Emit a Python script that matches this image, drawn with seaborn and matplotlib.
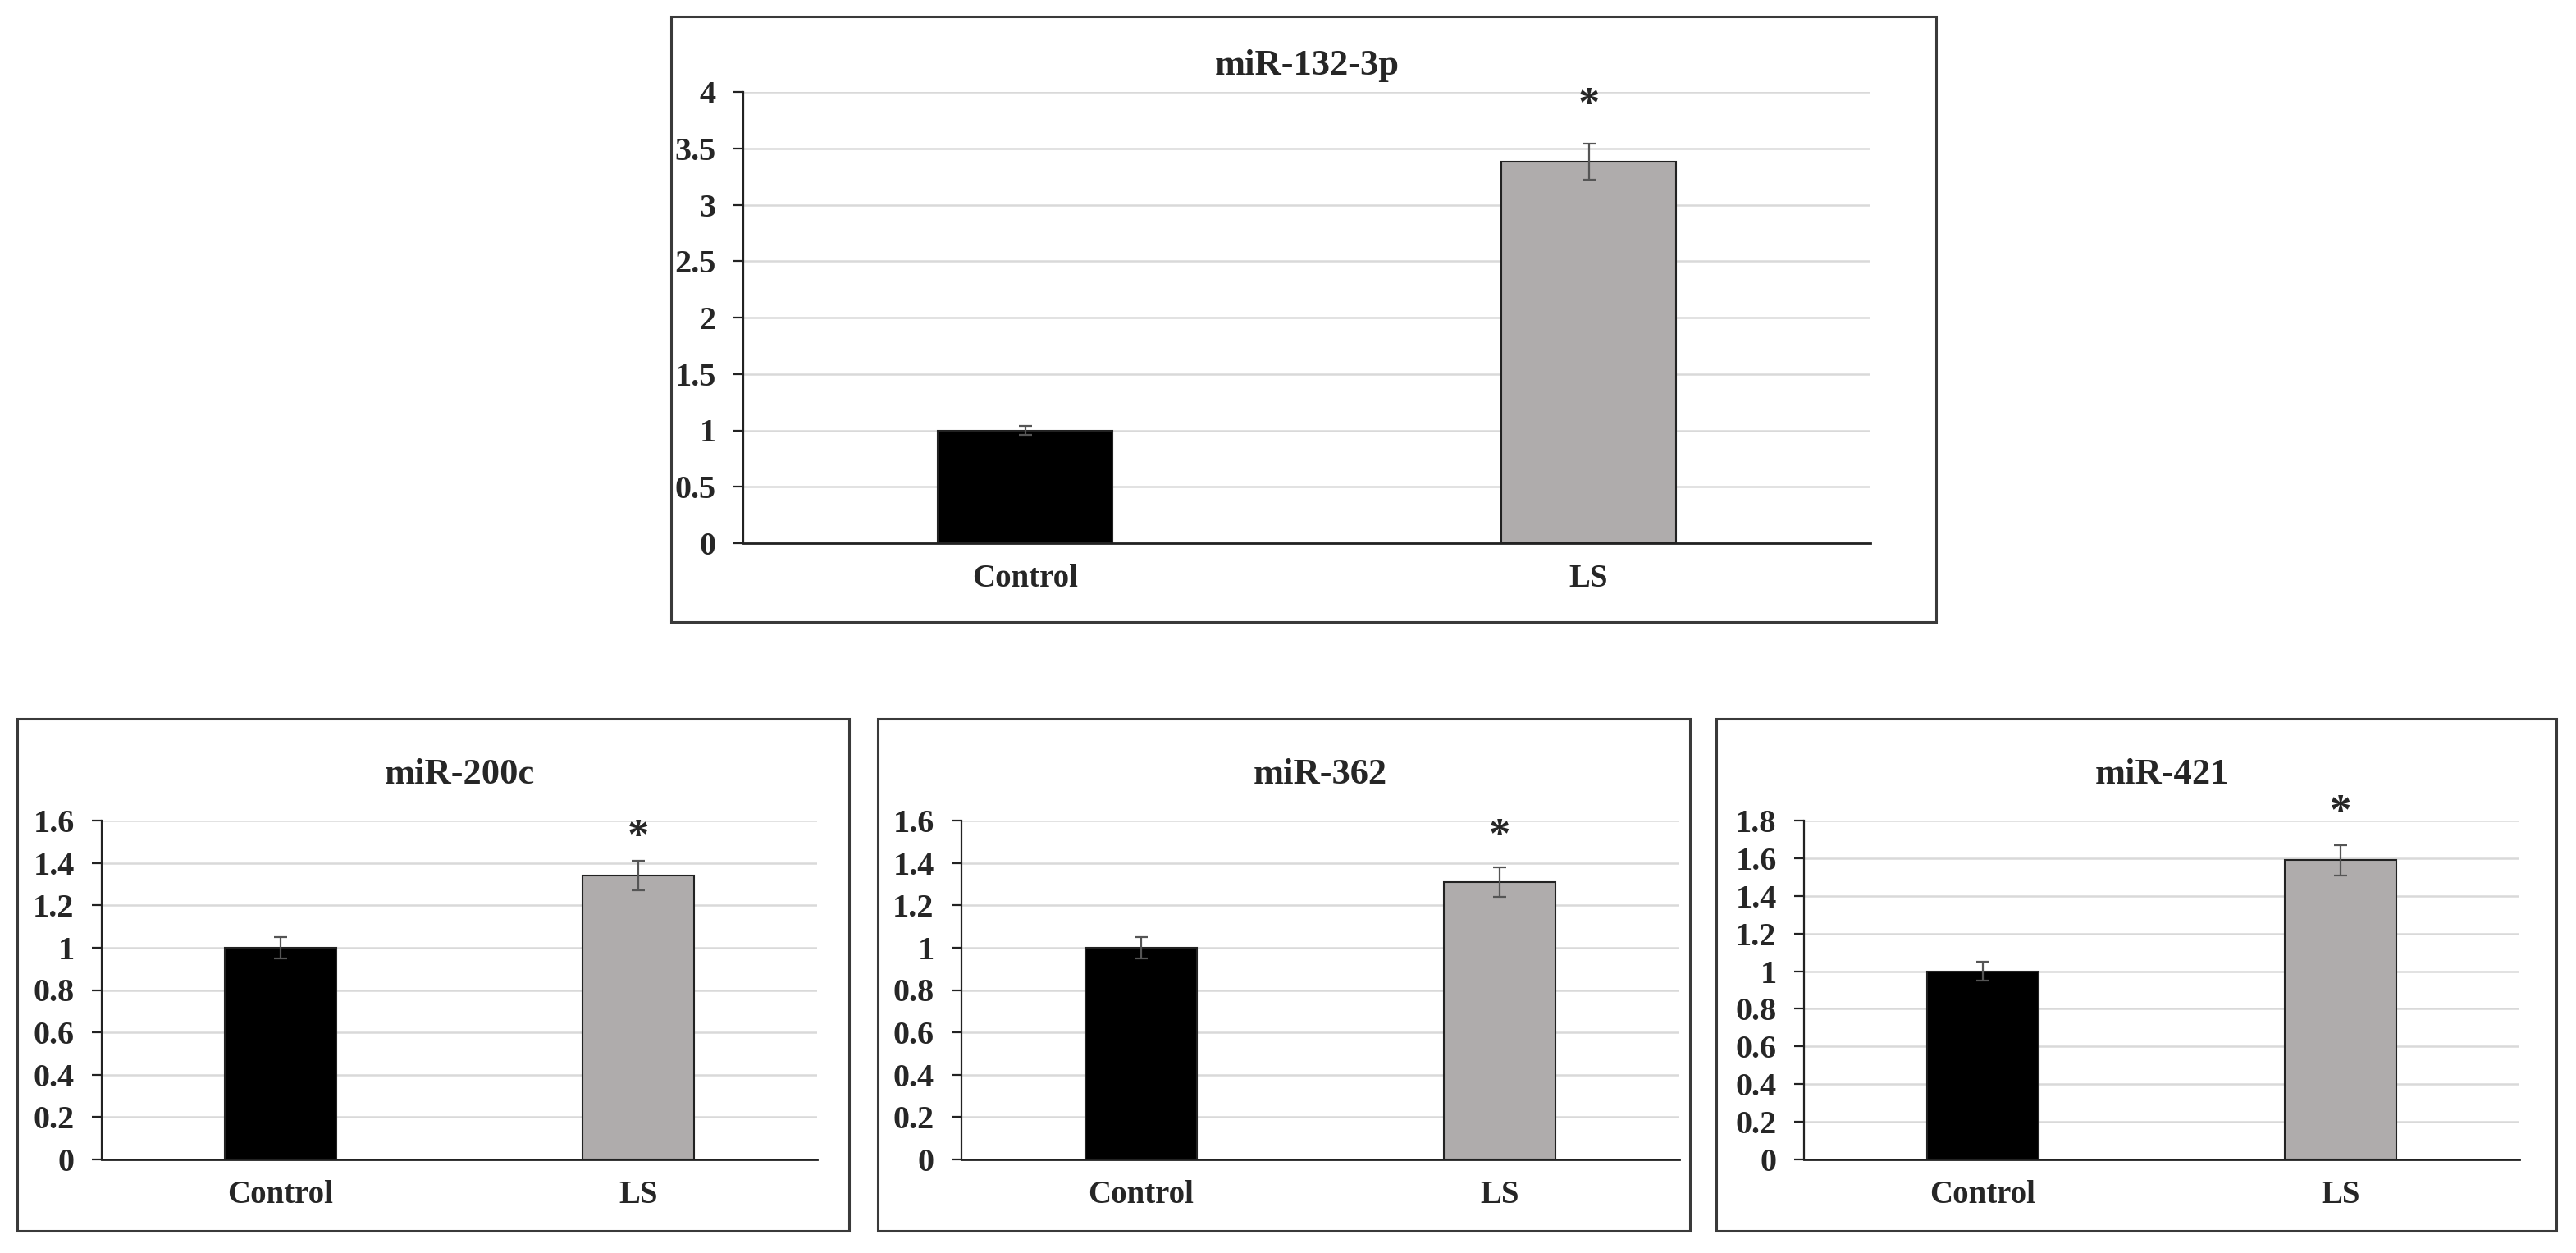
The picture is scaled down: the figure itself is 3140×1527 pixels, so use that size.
import numpy as np
import pandas as pd
import matplotlib
matplotlib.use("Agg")
import matplotlib.pyplot as plt
import seaborn as sns
from matplotlib.patches import Rectangle
from matplotlib.ticker import FixedLocator

# data
groups = ["Control", "LS"]
panel_titles = ["miR-132-3p", "miR-200c", "miR-362", "miR-421"]
means = {
    "miR-132-3p": [1.0, 3.38],
    "miR-200c": [1.0, 1.34],
    "miR-362": [1.0, 1.31],
    "miR-421": [1.0, 1.59],
}
errors = {
    "miR-132-3p": [0.04, 0.16],
    "miR-200c": [0.05, 0.07],
    "miR-362": [0.05, 0.07],
    "miR-421": [0.05, 0.08],
}
y_ticks = {
    "miR-132-3p": [0, 0.5, 1, 1.5, 2, 2.5, 3, 3.5, 4],
    "miR-200c": [0, 0.2, 0.4, 0.6, 0.8, 1, 1.2, 1.4, 1.6],
    "miR-362": [0, 0.2, 0.4, 0.6, 0.8, 1, 1.2, 1.4, 1.6],
    "miR-421": [0, 0.2, 0.4, 0.6, 0.8, 1, 1.2, 1.4, 1.6, 1.8],
}
y_tick_labels = {
    "miR-132-3p": ["0", "0.5", "1", "1.5", "2", "2.5", "3", "3.5", "4"],
    "miR-200c": ["0", "0.2", "0.4", "0.6", "0.8", "1", "1.2", "1.4", "1.6"],
    "miR-362": ["0", "0.2", "0.4", "0.6", "0.8", "1", "1.2", "1.4", "1.6"],
    "miR-421": ["0", "0.2", "0.4", "0.6", "0.8", "1", "1.2", "1.4", "1.6", "1.8"],
}
significant = ["LS"]

bar_colors = ["#000000", "#b0acab"]

sns.set_style("white")
plt.rcParams['font.family'] = ['Liberation Serif', 'DejaVu Serif']
plt.rcParams['font.weight'] = 'bold'

fig = plt.figure(figsize=(31.4, 15.27), dpi=100)

# axes rects and frame boxes (figure fractions)
axes_rects = {
    "miR-132-3p": [906 / 3140, 1 - 662 / 1527, 1374 / 3140, 550 / 1527],
    "miR-200c": [124 / 3140, 1 - 1413 / 1527, 872 / 3140, 413 / 1527],
    "miR-362": [1172 / 3140, 1 - 1413 / 1527, 875 / 3140, 413 / 1527],
    "miR-421": [2199 / 3140, 1 - 1413 / 1527, 872 / 3140, 413 / 1527],
}
box_rects = {
    "miR-132-3p": [0.2605, 0.5036, 0.4911, 0.4833],
    "miR-200c": [0.0067, 0.0177, 0.3229, 0.4086],
    "miR-362": [0.3408, 0.0177, 0.3153, 0.4086],
    "miR-421": [0.6662, 0.0177, 0.3261, 0.4086],
}
title_y = {"miR-132-3p": 1.058, "miR-200c": 1.136, "miR-362": 1.136, "miR-421": 1.136}
star_offset = {"miR-132-3p": 16, "miR-200c": 3, "miR-362": 9, "miR-421": 11}

for name in panel_titles:
    bx = box_rects[name]
    fig.patches.append(Rectangle((bx[0], bx[1]), bx[2], bx[3], transform=fig.transFigure,
                                 fill=False, edgecolor="#3a3a3a", linewidth=2.2))

    ax = fig.add_axes(axes_rects[name])
    df = pd.DataFrame({"group": groups, "value": means[name]})
    sns.barplot(data=df, x="group", y="value", hue="group", palette=bar_colors,
                legend=False, width=0.31, edgecolor="#222222", linewidth=1.5, ax=ax)
    xpos = np.arange(len(groups))
    ax.errorbar(xpos, means[name], yerr=errors[name], fmt="none", ecolor="#555555",
                elinewidth=1.6, capsize=5.5, capthick=1.6, zorder=5)

    for i, g in enumerate(groups):
        if g in significant:
            ax.annotate("*", xy=(i, means[name][i] + errors[name][i]),
                        xytext=(0, star_offset[name]), textcoords="offset points",
                        ha="center", va="bottom", fontsize=38, fontweight="bold")

    ticks = y_ticks[name]
    ax.set_ylim(0, ticks[-1])
    ax.set_xlim(-0.5, len(groups) - 0.5)
    ax.set_yticks(ticks)
    ax.set_yticklabels(y_tick_labels[name], fontsize=29, fontweight="bold")
    ax.set_xticks(xpos)
    ax.set_xticklabels(groups, fontsize=28, fontweight="bold")
    ax.xaxis.set_minor_locator(FixedLocator([-0.5, 0.5, 1.5]))
    ax.tick_params(axis="x", which="major", length=0, pad=18)
    ax.tick_params(axis="x", which="minor", length=10, width=1.6, color="#222222", direction="out")
    ax.tick_params(axis="y", length=9, width=1.6, color="#222222", direction="out", pad=15, left=True)

    ax.yaxis.grid(True, color="#d9d9d9", linewidth=1.8)
    ax.set_axisbelow(True)
    ax.set_xlabel("")
    ax.set_ylabel("")
    for s in ["top", "right"]:
        ax.spines[s].set_visible(False)
    ax.spines["left"].set_color("#222222")
    ax.spines["left"].set_linewidth(1.6)
    ax.spines["bottom"].set_color("#222222")
    ax.spines["bottom"].set_linewidth(2.0)

    ax.text(0.5, title_y[name], name, transform=ax.transAxes, ha="center", va="center",
            fontsize=32, fontweight="bold")

fig.savefig("out.png", dpi=100)
